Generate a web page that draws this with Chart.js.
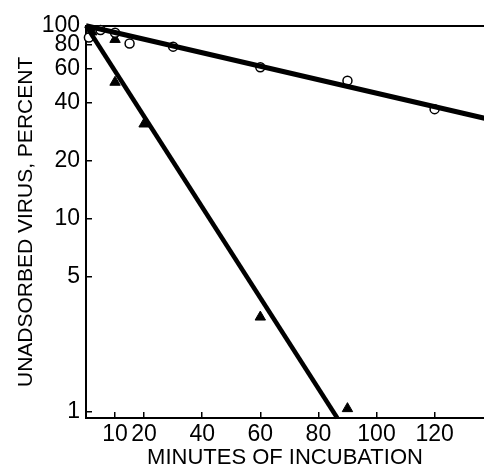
<!DOCTYPE html>
<html>
<head>
<meta charset="utf-8">
<script src="https://cdn.jsdelivr.net/npm/chart.js@4.4.1/dist/chart.umd.min.js"></script>
<style>
  html, body { margin: 0; padding: 0; background: #fff; }
  #wrap { width: 484px; height: 471px; position: relative; }
</style>
</head>
<body>
<div id="wrap"><canvas id="c" width="484" height="471"></canvas></div>
<script>
// minutes of incubation vs. unadsorbed virus, percent (log scale)
var circleX = [1, 5, 10, 15, 30, 60, 90, 120]
var circleY = [87, 95, 92, 81, 78, 61, 52, 37]
var triangleX = [2, 10, 10, 20, 60, 90]
var triangleY = [93, 85, 51, 31, 3.1, 1.04]

// fitted lines, end points
var slowLineX = [0, 138]
var slowLineY = [100, 33]
var fastLineX = [0, 86.5]
var fastLineY = [100, 0.93]

var xTicks = [10, 20, 40, 60, 80, 100, 120]
var yTicks = [1, 5, 10, 20, 40, 60, 80, 100]

function pts(xs, ys) {
    return xs.map(function(x, i) { return { x: x, y: ys[i] } })
}

var family = '"Liberation Sans", Arial, sans-serif'
var tickFont = { family: family, size: 23 }

new Chart(document.getElementById('c'), {
    type: 'scatter',
    data: {
        datasets: [
            {
                data: pts(slowLineX, slowLineY), showLine: true,
                borderColor: '#000', borderWidth: 5, pointRadius: 0
            },
            {
                data: pts(fastLineX, fastLineY), showLine: true,
                borderColor: '#000', borderWidth: 4.5, pointRadius: 0
            },
            {
                data: pts(circleX, circleY),
                pointStyle: 'circle', pointRadius: 4.5,
                backgroundColor: '#fff', borderColor: '#000', borderWidth: 1.5
            },
            {
                data: pts(triangleX, triangleY),
                pointStyle: 'triangle', pointRadius: 6,
                backgroundColor: '#000', borderColor: '#000', borderWidth: 1
            }
        ]
    },
    options: {
        responsive: false,
        animation: false,
        clip: false,
        layout: { autoPadding: false, padding: 0 },
        plugins: { legend: { display: false }, tooltip: { enabled: false } },
        scales: {
            x: {
                type: 'linear', min: 0, max: 137,
                afterBuildTicks: function(s) { s.ticks = xTicks.map(function(v) { return { value: v } }) },
                afterFit: function(s) { s.height = 53 },
                ticks: { color: '#000', font: tickFont, padding: 9, maxRotation: 0, autoSkip: false },
                grid: { drawOnChartArea: false, drawTicks: true, tickLength: -6, color: '#000', lineWidth: 1.5 },
                border: { color: '#000', width: 2 },
                title: {
                    display: true, text: 'MINUTES OF INCUBATION', color: '#000',
                    font: { family: family, size: 22 }, padding: { top: -1, bottom: 0 }
                }
            },
            xTop: {
                type: 'linear', position: 'top', min: 0, max: 137,
                afterFit: function(s) { s.height = 24 },
                ticks: { display: false },
                grid: { display: false },
                border: { color: '#000', width: 2 }
            },
            y: {
                type: 'logarithmic', min: 0.93, max: 100,
                afterBuildTicks: function(s) { s.ticks = yTicks.map(function(v) { return { value: v } }) },
                afterFit: function(s) { s.width = 86 },
                ticks: {
                    color: '#000', font: tickFont, padding: 12, autoSkip: false,
                    callback: function(v) { return String(v) }
                },
                grid: { drawOnChartArea: false, drawTicks: true, tickLength: -6, color: '#000', lineWidth: 1.5 },
                border: { color: '#000', width: 2 },
                title: {
                    display: true, text: 'UNADSORBED VIRUS, PERCENT', color: '#000',
                    font: { family: family, size: 21 }, padding: { top: 14, bottom: 0 }
                }
            }
        }
    }
})
</script>
</body>
</html>
